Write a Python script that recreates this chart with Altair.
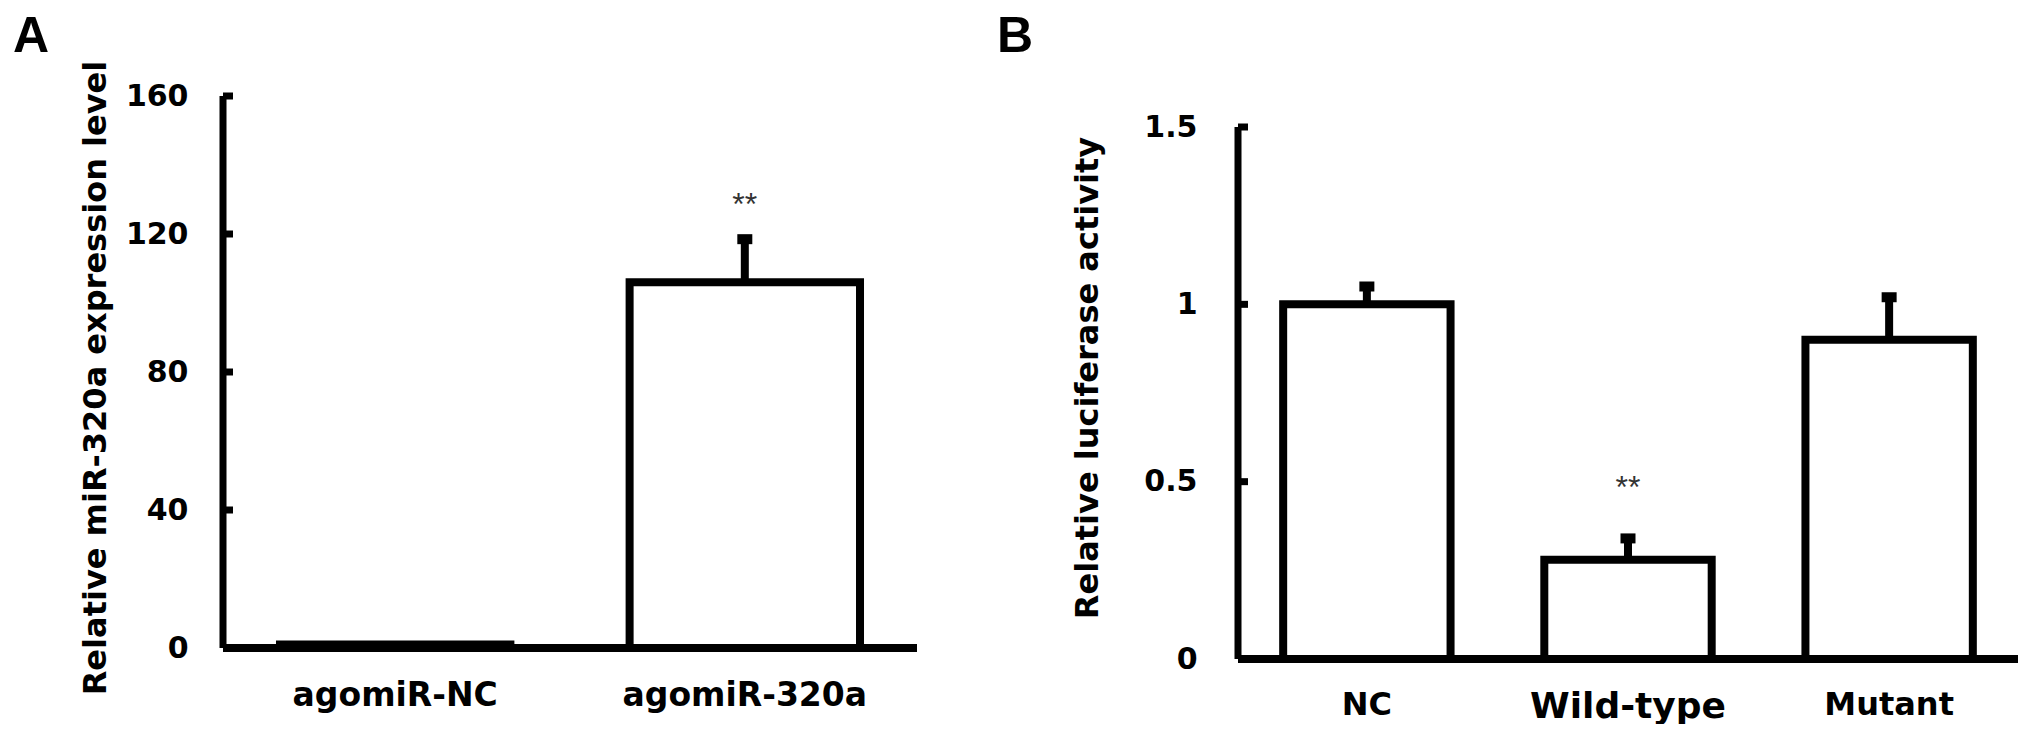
import altair as alt
import pandas as pd

FONT = "Liberation Sans"
WIDE = "DejaVu Sans"

# ---------------- data ----------------
a_groups = ["agomiR-NC", "agomiR-320a"]
a_means = [1.0, 106.0]
a_errs = [0.0, 12.5]
a_sig = ["", "**"]
a_ticks = [0, 40, 80, 120, 160]

b_groups = ["NC", "Wild-type", "Mutant"]
b_means = [1.0, 0.28, 0.90]
b_errs = [0.05, 0.06, 0.12]
b_sig = ["", "**", ""]
b_ticks = [0, 0.5, 1, 1.5]


def panel(groups, means, errs, sig, ticks, title, letter, width, height,
          ydomain, pad_outer, pad_inner, star_dy, xlab_pad, ylab_pad,
          title_pad, letter_x, letter_y, xlab_size):
    df = pd.DataFrame({"g": groups, "m": means, "e": errs, "s": sig})
    df["top"] = df["m"] + df["e"]
    edf = df[df["e"] > 0]
    tdf = pd.DataFrame({"t": ticks})
    one = pd.DataFrame({"lo": [ticks[0]], "hi": [ticks[-1]], "lab": [letter]})

    xscale = alt.Scale(paddingInner=pad_inner, paddingOuter=pad_outer)
    xaxis = alt.Axis(title=None, labelAngle=0, domain=False, ticks=False,
                     tickSize=0, labelFont=WIDE, labelFontWeight="bold",
                     labelFontSize=xlab_size, labelPadding=xlab_pad,
                     labelColor="#000", labelLimit=0)

    def X():
        return alt.X("g:N", sort=groups, scale=xscale, axis=xaxis)

    yscale = alt.Scale(domain=ydomain, nice=False, zero=False)
    yaxis = alt.Axis(values=ticks, labelExpr="'' + datum.value", title=title,
                     domain=False, ticks=False, tickSize=0, grid=False,
                     labelFont=WIDE, labelFontWeight="bold", labelFontSize=30,
                     labelColor="#000", labelPadding=ylab_pad,
                     titleFont=WIDE, titleFontWeight="bold", titleFontSize=32,
                     titleColor="#000", titlePadding=title_pad)

    def Y(field):
        return alt.Y(field, scale=yscale, axis=yaxis, title=title)

    bars = alt.Chart(df).mark_bar(fill="white", stroke="#000", strokeWidth=8).encode(
        x=X(), y=Y("m:Q"), y2=alt.datum(0))
    stem = alt.Chart(edf).mark_rule(color="#000", strokeWidth=8).encode(
        x=X(), y=Y("m:Q"), y2="top:Q")
    cap = alt.Chart(edf).mark_tick(color="#000", thickness=10, size=15, opacity=1).encode(
        x=X(), y=Y("top:Q"))
    star = alt.Chart(edf).mark_text(font=FONT, fontSize=32, color="#333",
                                    baseline="alphabetic", dy=star_dy).encode(
        x=X(), y=Y("top:Q"), text="s:N")
    yrule = alt.Chart(one).mark_rule(color="#000", strokeWidth=7).encode(
        x=alt.value(0), y=Y("lo:Q"), y2="hi:Q")
    ytk = alt.Chart(tdf).mark_rule(color="#000", strokeWidth=7).encode(
        x=alt.value(0), x2=alt.value(10), y=Y("t:Q"))
    xrule = alt.Chart(one).mark_rule(color="#000", strokeWidth=8).encode(
        x=alt.value(0), x2=alt.value(width), y=Y("lo:Q"))
    lett = alt.Chart(one).mark_text(font=FONT, fontWeight="bold", fontSize=50,
                                    align="left", baseline="top", color="#000").encode(
        x=alt.value(letter_x), y=alt.value(letter_y), text="lab:N")

    return alt.layer(bars, stem, cap, star, yrule, ytk, xrule, lett).properties(
        width=width, height=height)


H = 563
pa = panel(a_groups, a_means, a_errs, a_sig, a_ticks,
           "Relative miR-320a expression level", "A", 694, H,
           [-11 / 3.45, 160], 0.163, 0.341, -24, 20, 35, 13, -210, -84, 33)
pb = panel(b_groups, b_means, b_errs, b_sig, b_ticks,
           "Relative luciferase activity", "B", 780, H,
           [0, 1.5 * H / 532], 0.173, 0.359, -40, 30, 41, 39, -241, -84,
           {"condition": {"test": "datum.value == 'Wild-type'", "value": 36}, "value": 32})

chart = alt.hconcat(pa, pb, spacing=76).properties(
    padding={"left": 5, "top": 4, "right": 0, "bottom": 0},
    background="white",
).configure_view(stroke=None)

chart.save("out.html", embed_options={"renderer": "svg", "actions": False})
